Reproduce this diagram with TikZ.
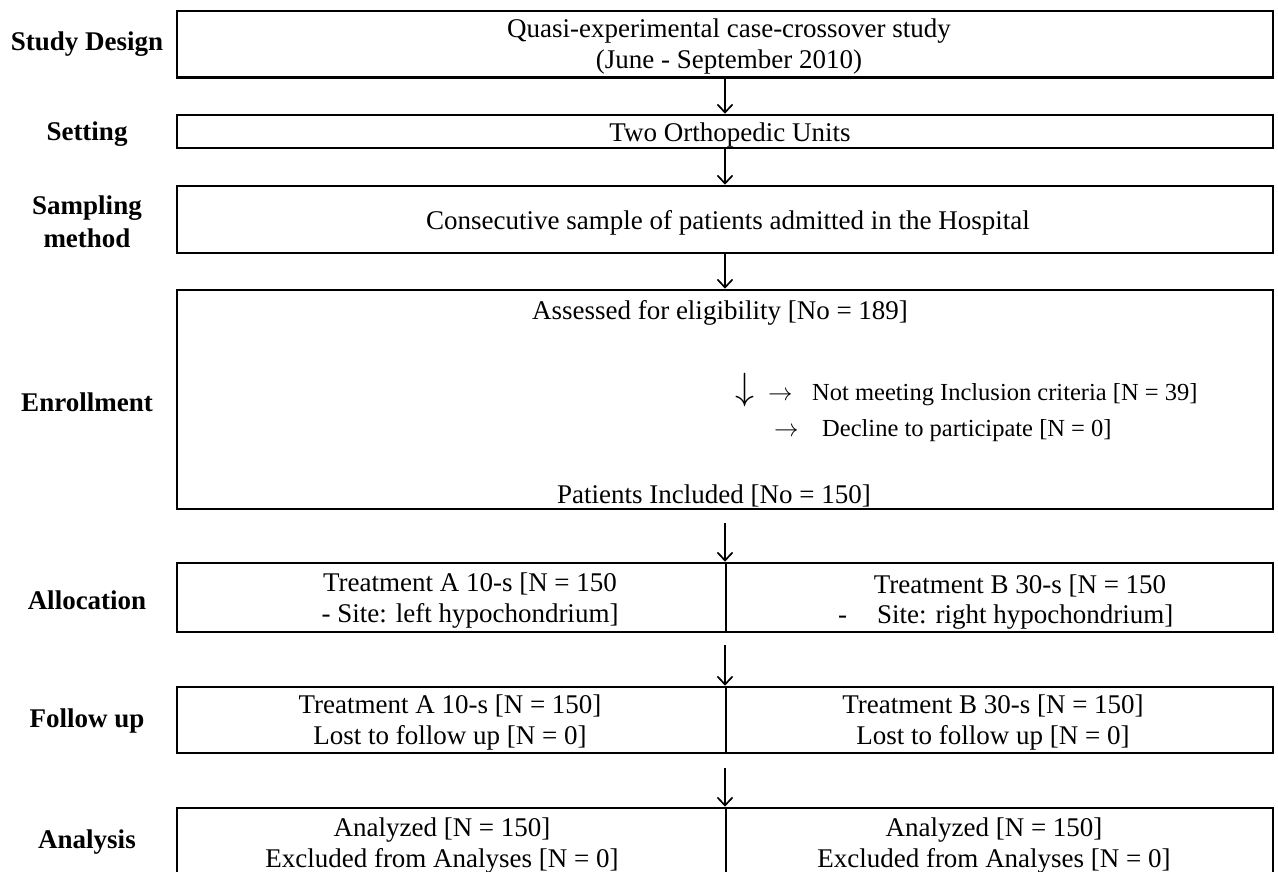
\RequirePackage{fix-cm}
\documentclass[tikz,border=0pt]{standalone}
\usepackage{fontspec}
\setmainfont{Liberation Serif}
\usetikzlibrary{arrows.meta}
\begin{document}
\begin{tikzpicture}[x=1pt,y=-1pt,
  box/.style={draw, line width=2.6pt, inner sep=0pt},
  lbl/.style={font=\fontsize{27}{33}\selectfont\bfseries, align=center, inner sep=0pt},
  txt/.style={font=\fontsize{27}{31}\selectfont, align=center, inner sep=0pt},
  sml/.style={font=\fontsize{24.5}{28}\selectfont, inner sep=0pt, anchor=base west},
  flow/.style={line width=1.7pt, -{Straight Barb[length=8pt,width=15pt,line width=1.7pt]}},
  div/.style={line width=2pt}]
\useasboundingbox (0,0) rectangle (1278,872);

% left labels
\node[lbl] (l1) at (87,44) {Study Design};
\node[lbl] (l2) at (87,134) {Setting};
\node[lbl] (l3) at (87,222) {Sampling\\method};
\node[lbl] (l4) at (87,402) {Enrollment};
\node[lbl] (l5) at (87,600) {Allocation};
\node[lbl] (l6) at (87,721) {Follow up};
\node[lbl] (l7) at (87,842) {Analysis};

% boxes
\node[box, minimum width=1096pt, minimum height=66.5pt] (b1) at (725,44.3) {};
\node[box, minimum width=1096pt, minimum height=33pt] (b2) at (725,131.5) {};
\node[box, minimum width=1096pt, minimum height=67pt] (b3) at (725,219.5) {};
\node[box, minimum width=1096pt, minimum height=219pt] (b4) at (725,399.5) {};
\node[box, minimum width=1096pt, minimum height=69pt] (b5) at (725,597.5) {};
\node[box, minimum width=1096pt, minimum height=66pt] (b6) at (725,720) {};
\node[box, minimum width=1096pt, minimum height=80pt] (b7) at (725,848) {};

% box texts
\node[txt] (t1) at (729,47) {Quasi-experimental case-crossover study\\(June - September 2010)};
\node[txt] (t2) at (730,135) {Two Orthopedic Units};
\node[txt] (t3) at (728,222.5) {Consecutive sample of patients admitted in the Hospital};

% dividers
\draw[div] ([xshift=1pt]b5.north) -- ([xshift=1pt]b5.south);
\draw[div] ([xshift=1pt]b6.north) -- ([xshift=1pt]b6.south);
\draw[div] ([xshift=1pt]b7.north) -- ([xshift=1pt]b7.south);

% enrollment contents
\node[txt] (e1) at (720,313) {Assessed for eligibility [No = 189]};
\node[font=\fontsize{38}{38}\selectfont, inner sep=0pt] (dn) at (745,390) {$\downarrow$};
\node[sml] (r1) at (768,400.5) {$\rightarrow$};
\node[sml] (n1) at (812,400.5) {Not meeting Inclusion criteria [N = 39]};
\node[sml] (r2) at (774,436) {$\rightarrow$};
\node[sml] (n2) at (822,436) {Decline to participate [N = 0]};
\node[txt] (e2) at (714,496) {Patients Included [No = 150]};

% allocation contents
\node[txt] (a1) at (470,601) {Treatment A 10-s [N = 150\\- Site: left hypochondrium]};
\node[txt] (a2) at (1020,586) {Treatment B 30-s [N = 150};
\node[txt, anchor=west] (a3) at (838,617) {-\hspace{30pt}Site: right hypochondrium]};

% follow-up contents
\node[txt] (f1) at (450,722.5) {Treatment A 10-s [N = 150]\\Lost to follow up [N = 0]};
\node[txt] (f2) at (993,722.5) {Treatment B 30-s [N = 150]\\Lost to follow up [N = 0]};

% analysis contents
\node[txt] (g1) at (442,845.5) {Analyzed [N = 150]\\Excluded from Analyses [N = 0]};
\node[txt] (g2) at (994,845.5) {Analyzed [N = 150]\\Excluded from Analyses [N = 0]};

% connectors
\coordinate (s5) at (725,523);
\coordinate (s6) at (725,645);
\coordinate (s7) at (725,768);
\draw[flow] (b1.south) -- (b2.north);
\draw[flow] (b2.south) -- (b3.north);
\draw[flow] (b3.south) -- (b4.north);
\draw[flow] (s5) -- (b5.north);
\draw[flow] (s6) -- (b6.north);
\draw[flow] (s7) -- (b7.north);
\end{tikzpicture}
\end{document}
